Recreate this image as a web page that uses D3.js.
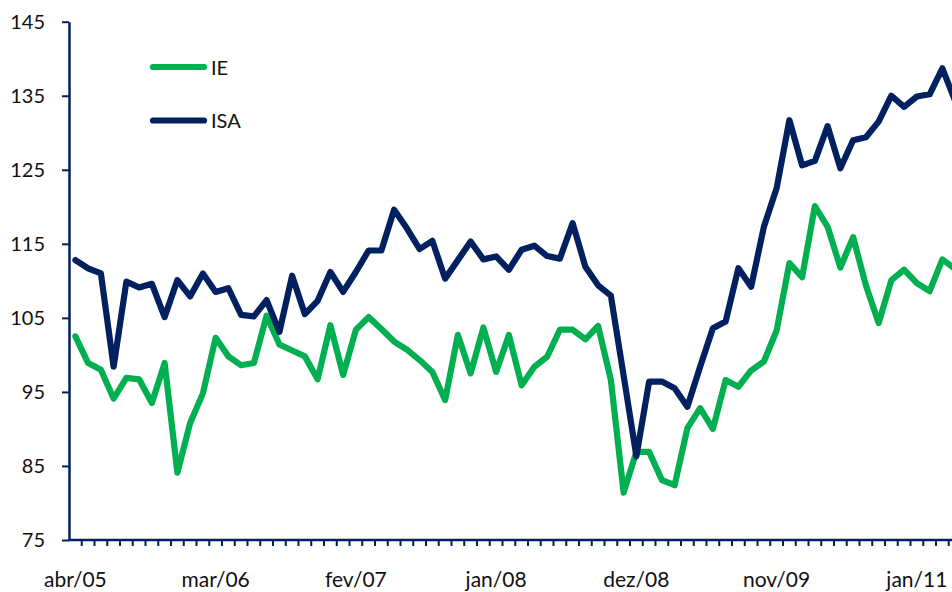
<!DOCTYPE html>
<html>
<head>
<meta charset="utf-8">
<script src="https://cdn.jsdelivr.net/npm/d3@7"></script>
<style>
  html, body { margin: 0; padding: 0; background: #fff; overflow: hidden; }
  svg { display: block; font-family: Lato, "Open Sans", sans-serif; }
</style>
</head>
<body>
<svg id="chart" width="952" height="592"></svg>
<script>
// ---- data ----
const seriesNames = ["IE", "ISA"];
const ieValues = [102.5, 98.9, 98.0, 94.1, 96.9, 96.7, 93.5, 98.9, 84.1, 90.8,
  94.8, 102.3, 99.8, 98.6, 98.9, 105.3, 101.4, 100.6, 99.8, 96.7,
  104.0, 97.3, 103.4, 105.1, 103.5, 101.8, 100.7, 99.3, 97.7, 93.9,
  102.7, 97.5, 103.7, 97.7, 102.7, 95.9, 98.4, 99.75, 103.4, 103.4,
  102.1, 103.9, 96.6, 81.4, 86.9, 86.9, 83.1, 82.4, 90.1, 92.8,
  90.0, 96.6, 95.7, 97.9, 99.1, 103.3, 112.4, 110.5, 120.1, 117.3,
  111.8, 115.9, 109.4, 104.3, 110.1, 111.5, 109.7, 108.6, 112.9, 111.6];
const isaValues = [112.8, 111.7, 111.0, 98.4, 109.9, 109.1, 109.6, 105.1, 110.1, 107.9,
  111.0, 108.5, 109.0, 105.4, 105.2, 107.4, 103.1, 110.7, 105.5, 107.3,
  111.2, 108.5, 111.2, 114.1, 114.1, 119.6, 117.1, 114.3, 115.4, 110.3,
  112.8, 115.3, 112.9, 113.3, 111.5, 114.2, 114.75, 113.35, 113.0, 117.8,
  111.9, 109.4, 108.0, 97.2, 86.3, 96.4, 96.4, 95.5, 93.0, 98.4,
  103.6, 104.5, 111.7, 109.2, 117.3, 122.5, 131.7, 125.6, 126.2, 130.9,
  125.2, 129.0, 129.4, 131.5, 135.0, 133.5, 134.9, 135.2, 138.7, 134.3];
const tickLabels = ["abr/05", "mar/06", "fev/07", "jan/08", "dez/08", "nov/09", "jan/11"];
const tickLabelIndex = [0, 11, 22, 33, 44, 55, 66];
const yTicks = [75, 85, 95, 105, 115, 125, 135, 145];
const colors = { IE: "#00B050", ISA: "#002060" };

// ---- layout ----
const svg = d3.select("#chart");
const W = 952, H = 592;
const mLeft = 69, mBottom = 540, mTop = 21.7;
const step = 12.75;
const idx = d3.range(ieValues.length);
const x = d3.scaleBand().domain(idx).range([mLeft, mLeft + step * idx.length]).paddingInner(0).paddingOuter(0);
const cx = i => x(i) + x.bandwidth() / 2;
const y = d3.scaleLinear().domain([75, 145]).range([mBottom, mTop]);
const axisColor = "#002060";

// y axis
const yAxis = svg.append("g")
  .attr("transform", `translate(${mLeft},0)`)
  .call(d3.axisLeft(y).tickValues(yTicks).tickSize(7).tickSizeOuter(0).tickPadding(17).tickFormat(d3.format("d")));
yAxis.select(".domain").attr("stroke", axisColor).attr("stroke-width", 2.5);
yAxis.selectAll(".tick line").attr("stroke", axisColor).attr("stroke-width", 2);
yAxis.selectAll(".tick text").attr("fill", "#111").style("font-size", "20px").style("font-family", "Lato, 'Open Sans', sans-serif");

// x axis
const xg = svg.append("g");
xg.append("line").attr("x1", mLeft).attr("x2", W).attr("y1", mBottom).attr("y2", mBottom)
  .attr("stroke", axisColor).attr("stroke-width", 2.5);
xg.selectAll("line.xt").data(idx.slice(1).concat([idx.length]))
  .enter().append("line").attr("class", "xt")
  .attr("x1", i => i < idx.length ? x(i) : x(idx.length - 1) + step)
  .attr("x2", i => i < idx.length ? x(i) : x(idx.length - 1) + step)
  .attr("y1", mBottom).attr("y2", mBottom + 6)
  .attr("stroke", axisColor).attr("stroke-width", 2);
xg.selectAll("text.xl").data(tickLabelIndex)
  .enter().append("text").attr("class", "xl")
  .attr("x", i => cx(i)).attr("y", 587)
  .attr("text-anchor", "middle")
  .attr("fill", "#111")
  .style("font-size", "21px")
  .text((i, k) => tickLabels[k]);

// lines
const line = d3.line().x((d, i) => cx(i)).y(d => y(d));
[["IE", ieValues], ["ISA", isaValues]].forEach(([name, vals]) => {
  svg.append("path").datum(vals)
    .attr("d", line)
    .attr("fill", "none")
    .attr("stroke", colors[name])
    .attr("stroke-width", 6.2)
    .attr("stroke-linejoin", "round")
    .attr("stroke-linecap", "round");
});

// legend
const legend = svg.append("g");
seriesNames.forEach((name, k) => {
  const ly = 67 + k * 53.5;
  legend.append("line").attr("x1", 153).attr("x2", 204).attr("y1", ly).attr("y2", ly)
    .attr("stroke", colors[name]).attr("stroke-width", 6.2).attr("stroke-linecap", "round");
  legend.append("text").attr("x", 211).attr("y", ly + 7.5)
    .attr("fill", "#111").style("font-size", "20px").text(name);
});
</script>
</body>
</html>
